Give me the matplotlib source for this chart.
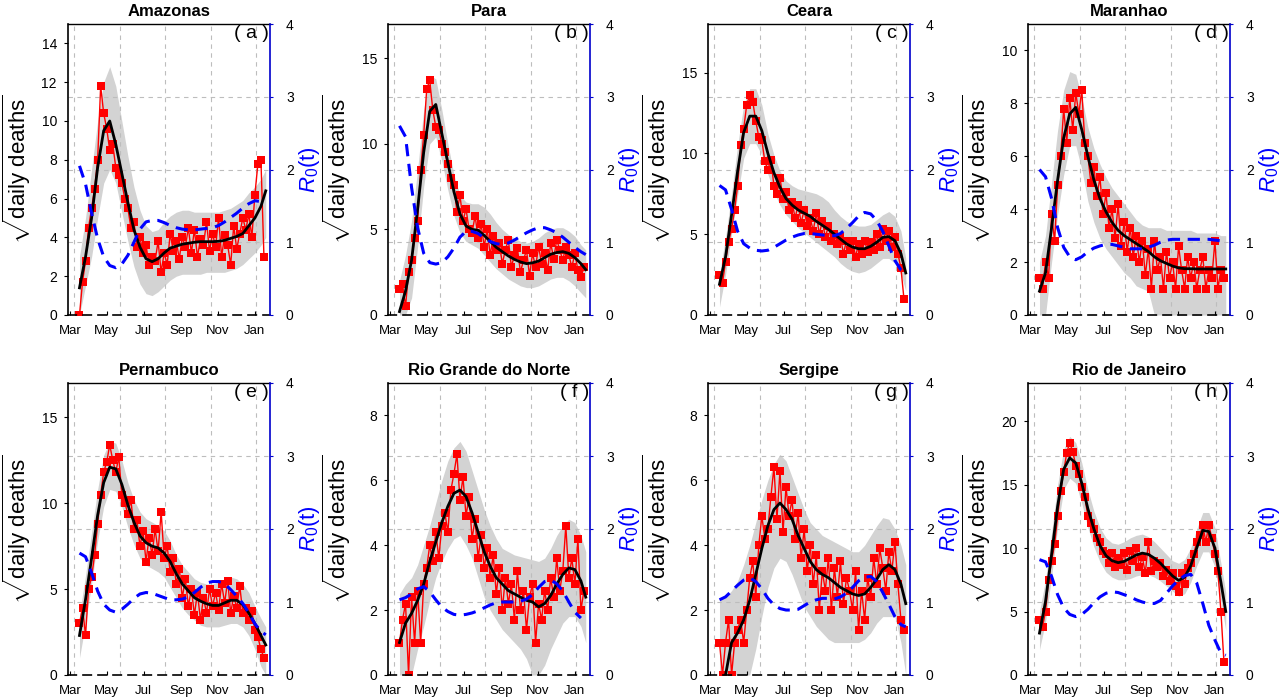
import matplotlib
matplotlib.use('Agg')
import matplotlib.pyplot as plt
import numpy as np

plt.rcParams['font.family'] = ['Liberation Sans', 'DejaVu Sans']
plt.rcParams['mathtext.fontset'] = 'custom'
plt.rcParams['mathtext.rm'] = 'Liberation Sans'
plt.rcParams['mathtext.it'] = 'Liberation Sans:italic'
plt.rcParams['mathtext.bf'] = 'Liberation Sans:bold'

# ---------------- data ----------------
states = ['Amazonas', 'Para', 'Ceara', 'Maranhao',
          'Pernambuco', 'Rio Grande do Norte', 'Sergipe', 'Rio de Janeiro']
letters = ['a', 'b', 'c', 'd', 'e', 'f', 'g', 'h']
y_max = [15, 17, 18, 11, 17, 9, 9, 23]
y_ticks = [[0, 2, 4, 6, 8, 10, 12, 14], [0, 5, 10, 15], [0, 5, 10, 15],
           [0, 2, 4, 6, 8, 10], [0, 5, 10, 15], [0, 2, 4, 6, 8],
           [0, 2, 4, 6, 8], [0, 5, 10, 15, 20]]

# days since 1 March 2020
month_days = [0, 61, 122, 184, 245, 306]
month_labels = ['Mar', 'May', 'Jul', 'Sep', 'Nov', 'Jan']
grid_days = [7, 83, 158, 233, 308]

fit_days = [16, 26, 36, 46, 56, 66, 76, 86, 96, 106, 116, 126, 136, 146, 156, 166,
            176, 186, 196, 206, 216, 226, 236, 246, 256, 266, 276, 286, 296, 306, 316, 324]
obs_days = list(range(16, 322, 5))
nan = float('nan')

# fitted curves (sqrt daily deaths)
fit_amazonas = [1.4, 3.0, 5.0, 7.6, 9.5, 10.0, 8.8, 7.3, 5.8, 4.4, 3.5, 2.9, 2.75, 2.9, 3.2, 3.45,
                3.55, 3.65, 3.7, 3.75, 3.78, 3.78, 3.78, 3.8, 3.85, 3.95, 4.05, 4.2, 4.6, 5.0, 5.6, 6.4]
fit_para = [0.2, 1.4, 3.2, 6.2, 9.5, 11.9, 12.3, 10.6, 8.9, 7.2, 5.9, 5.2, 5.0, 4.95, 4.65, 4.3,
            3.95, 3.7, 3.45, 3.25, 3.1, 3.0, 3.05, 3.15, 3.35, 3.55, 3.65, 3.7, 3.6, 3.35, 3.0, 2.65]
fit_ceara = [1.9, 3.6, 6.2, 8.9, 11.3, 12.3, 12.3, 11.4, 10.0, 8.8, 7.9, 7.2, 6.8, 6.5, 6.3, 6.1,
             5.8, 5.55, 5.3, 5.0, 4.7, 4.4, 4.2, 4.1, 4.1, 4.25, 4.5, 4.8, 4.85, 4.6, 3.8, 2.6]
fit_maranhao = [0.9, 1.6, 3.3, 5.1, 6.7, 7.6, 7.85, 7.0, 6.0, 5.1, 4.4, 3.9, 3.5, 3.2, 3.0, 2.85,
                2.7, 2.55, 2.4, 2.2, 2.05, 1.95, 1.85, 1.78, 1.75, 1.75, 1.74, 1.74, 1.74, 1.74, 1.74, 1.74]
fit_pernambuco = [2.3, 4.4, 6.8, 9.3, 11.2, 12.1, 12.0, 11.1, 9.9, 8.9, 8.1, 7.7, 7.5, 7.4, 7.1, 6.6,
                  5.9, 5.3, 4.9, 4.5, 4.3, 4.15, 4.05, 4.05, 4.2, 4.35, 4.35, 4.1, 3.6, 3.0, 2.3, 1.75]
fit_rgn = [1.0, 1.6, 1.9, 2.3, 2.8, 3.5, 4.1, 4.7, 5.2, 5.6, 5.7, 5.5, 5.0, 4.4, 3.8, 3.35,
           3.0, 2.8, 2.6, 2.5, 2.4, 2.3, 2.25, 2.1, 2.2, 2.45, 2.8, 3.1, 3.3, 3.25, 2.9, 2.4]
fit_sergipe = [nan, 0.0, 1.0, 1.3, 1.7, 2.3, 3.1, 3.9, 4.6, 5.1, 5.3, 5.1, 4.8, 4.3, 3.9, 3.5,
               3.25, 3.1, 3.0, 2.85, 2.7, 2.6, 2.5, 2.45, 2.5, 2.7, 2.95, 3.25, 3.4, 3.25, 2.8, 2.2]
fit_rio = [3.3, 5.8, 9.5, 13.3, 16.2, 17.1, 16.7, 15.1, 13.1, 11.5, 10.2, 9.4, 9.0, 8.85, 8.95, 9.2,
           9.45, 9.6, 9.5, 9.2, 8.8, 8.3, 7.8, 7.45, 7.7, 8.6, 10.0, 11.4, 11.3, 10.0, 7.3, 5.0]

# confidence band upper / lower
upper_amazonas = [3.0, 5.0, 7.5, 10.0, 12.0, 12.8, 11.8, 10.0, 8.2, 6.6, 5.4, 4.6, 4.3, 4.4, 4.8, 5.1,
                  5.3, 5.4, 5.4, 5.3, 5.3, 5.3, 5.3, 5.3, 5.4, 5.5, 5.7, 5.9, 6.3, 6.6, 7.0, 7.5]
lower_amazonas = [0.0, 1.5, 3.0, 5.0, 6.8, 7.5, 6.8, 5.3, 3.8, 2.5, 1.6, 1.1, 1.0, 1.2, 1.5, 1.8,
                  2.0, 2.1, 2.1, 2.1, 2.1, 2.2, 2.2, 2.2, 2.2, 2.3, 2.4, 2.6, 2.9, 3.2, 3.6, 4.0]
upper_para = [2.0, 3.5, 5.5, 8.5, 12.0, 14.0, 13.8, 12.0, 10.0, 8.2, 7.0, 6.6, 6.5, 6.5, 6.3, 5.9,
              5.4, 5.0, 4.7, 4.5, 4.3, 4.2, 4.3, 4.5, 4.8, 5.0, 5.1, 5.1, 4.9, 4.6, 4.1, 3.8]
lower_para = [0.0, 0.0, 1.0, 4.0, 7.5, 10.0, 10.4, 9.0, 7.3, 5.8, 4.8, 4.3, 4.1, 3.9, 3.5, 3.1,
              2.7, 2.4, 2.1, 1.9, 1.7, 1.6, 1.6, 1.7, 1.9, 2.1, 2.2, 2.2, 2.0, 1.7, 1.3, 1.0]
upper_ceara = [2.5, 4.8, 7.5, 10.5, 13.0, 14.0, 14.0, 13.0, 11.2, 9.9, 8.9, 8.3, 8.0, 7.8, 7.7, 7.6,
               7.5, 7.3, 7.0, 6.5, 6.1, 5.8, 5.6, 5.5, 5.5, 5.6, 5.9, 6.2, 6.4, 6.1, 5.2, 3.5]
lower_ceara = [0.5, 2.5, 5.0, 7.4, 9.7, 10.6, 10.6, 9.9, 8.7, 7.6, 6.8, 6.2, 5.8, 5.4, 5.1, 4.8,
               4.5, 4.2, 3.9, 3.6, 3.2, 2.9, 2.7, 2.6, 2.7, 2.9, 3.2, 3.5, 3.5, 3.2, 2.5, 1.5]
upper_maranhao = [2.0, 3.0, 5.0, 7.0, 8.5, 9.2, 9.1, 8.2, 7.1, 6.3, 5.7, 5.2, 4.8, 4.5, 4.2, 3.9,
                  3.6, 3.4, 3.3, 3.3, 3.3, 3.2, 3.2, 3.2, 3.2, 3.2, 3.1, 3.1, 3.1, 3.1, 3.0, 3.0]
lower_maranhao = [0.0, 0.0, 2.0, 3.8, 5.3, 6.4, 6.4, 5.5, 4.3, 3.5, 2.9, 2.5, 2.2, 1.9, 1.6, 1.4,
                  1.1, 1.0, 0.9, 0.0, 0.0, 0.0, 0.0, 0.0, 0.0, 0.0, 0.0, 0.0, 0.0, 0.0, 0.0, 0.0]
upper_pernambuco = [3.5, 5.8, 8.3, 10.8, 12.8, 13.6, 13.5, 12.5, 11.2, 10.2, 9.5, 9.1, 8.9, 8.7, 8.4, 7.8,
                    7.0, 6.4, 6.0, 5.6, 5.4, 5.3, 5.3, 5.4, 5.6, 5.7, 5.6, 5.3, 4.8, 4.0, 3.3, 2.8]
lower_pernambuco = [1.0, 3.0, 5.3, 7.8, 9.8, 10.8, 10.7, 9.8, 8.6, 7.6, 6.8, 6.4, 6.2, 6.0, 5.7, 5.1,
                    4.5, 3.9, 3.5, 3.2, 2.9, 2.8, 2.8, 2.8, 2.9, 3.0, 3.0, 2.8, 2.3, 1.5, 0.5, 0.0]
upper_rgn = [2.5, 2.8, 3.0, 3.4, 4.0, 4.6, 5.3, 6.0, 6.6, 7.0, 7.2, 6.9, 6.3, 5.7, 5.1, 4.6,
             4.2, 3.9, 3.8, 3.7, 3.65, 3.6, 3.55, 3.5, 3.6, 3.9, 4.3, 4.6, 4.8, 4.7, 4.3, 3.8]
lower_rgn = [0.0, 0.0, 0.0, 0.8, 1.5, 2.3, 3.0, 3.5, 3.9, 4.2, 4.3, 4.0, 3.6, 3.0, 2.4, 2.0,
             1.7, 1.4, 1.2, 1.0, 0.8, 0.5, 0.0, 0.0, 0.3, 0.8, 1.2, 1.6, 1.8, 1.8, 1.5, 1.0]
upper_sergipe = [2.3, 2.4, 2.6, 2.9, 3.4, 4.0, 4.7, 5.4, 6.0, 6.5, 6.8, 6.6, 6.1, 5.6, 5.1, 4.7,
                 4.5, 4.3, 4.2, 4.1, 4.0, 3.9, 3.8, 3.8, 4.0, 4.3, 4.6, 4.85, 4.8, 4.5, 4.0, 3.4]
lower_sergipe = [0.0, 0.0, 0.0, 0.0, 0.0, 0.0, 0.8, 1.8, 2.7, 3.3, 3.6, 3.5, 3.1, 2.6, 2.1, 1.8,
                 1.5, 1.3, 1.1, 1.0, 1.0, 1.0, 1.0, 1.0, 1.1, 1.3, 1.6, 1.8, 1.8, 1.8, 1.0, 0.0]
upper_rio = [5.0, 7.5, 11.2, 15.0, 17.8, 18.8, 18.3, 16.7, 14.6, 12.9, 11.6, 10.8, 10.4, 10.3, 10.5, 10.8,
             11.0, 11.1, 10.9, 10.5, 10.0, 9.5, 9.0, 8.8, 9.1, 10.0, 11.5, 12.8, 12.8, 11.6, 8.8, 6.5]
lower_rio = [2.0, 4.2, 7.8, 11.6, 14.6, 15.5, 15.1, 13.5, 11.6, 10.1, 8.9, 8.1, 7.7, 7.5, 7.5, 7.6,
             7.8, 7.9, 7.9, 7.7, 7.4, 7.0, 6.6, 6.2, 6.4, 7.3, 8.6, 9.7, 9.7, 8.5, 5.8, 3.5]

# R0(t)
r0_amazonas = [2.05, 1.8, 1.4, 1.05, 0.8, 0.68, 0.65, 0.7, 0.82, 1.0, 1.18, 1.28, 1.3, 1.3, 1.27, 1.23,
               1.2, 1.18, 1.17, 1.17, 1.18, 1.19, 1.2, 1.23, 1.28, 1.34, 1.4, 1.47, 1.53, 1.57, 1.56, 1.55]
r0_para = [2.6, 2.45, 1.75, 1.2, 0.85, 0.72, 0.7, 0.72, 0.8, 0.92, 1.07, 1.15, 1.15, 1.12, 1.06, 1.01,
           0.98, 0.97, 0.99, 1.03, 1.08, 1.13, 1.17, 1.2, 1.2, 1.17, 1.13, 1.07, 1.0, 0.93, 0.87, 0.83]
r0_ceara = [1.78, 1.72, 1.45, 1.15, 0.98, 0.92, 0.89, 0.88, 0.89, 0.93, 0.98, 1.03, 1.07, 1.1, 1.12, 1.12,
            1.11, 1.1, 1.09, 1.09, 1.12, 1.19, 1.27, 1.36, 1.41, 1.39, 1.3, 1.15, 0.95, 0.75, 0.62, 0.57]
r0_maranhao = [2.0, 1.9, 1.6, 1.2, 0.93, 0.8, 0.76, 0.8, 0.87, 0.92, 0.95, 0.97, 0.97, 0.95, 0.93, 0.91,
               0.91, 0.91, 0.93, 0.96, 1.0, 1.03, 1.04, 1.04, 1.04, 1.04, 1.04, 1.04, 1.04, 1.03, 1.02, nan]
r0_pernambuco = [1.67, 1.62, 1.4, 1.15, 0.97, 0.89, 0.86, 0.9, 0.97, 1.05, 1.11, 1.13, 1.12, 1.09, 1.06, 1.03,
                 1.03, 1.04, 1.07, 1.13, 1.2, 1.26, 1.28, 1.28, 1.25, 1.17, 1.08, 0.98, 0.85, 0.7, 0.6, 0.55]
r0_rgn = [1.03, 1.06, 1.11, 1.18, 1.21, 1.14, 1.03, 0.93, 0.87, 0.83, 0.82, 0.83, 0.85, 0.88, 0.92, 0.96,
          0.99, 1.0, 1.0, 1.0, 1.01, 1.04, 1.1, 1.2, 1.28, 1.3, 1.25, 1.15, 1.0, 0.86, 0.78, nan]
r0_sergipe = [1.03, 1.07, 1.15, 1.23, 1.3, 1.33, 1.28, 1.18, 1.05, 0.96, 0.91, 0.89, 0.89, 0.9, 0.95, 1.0,
              1.03, 1.05, 1.05, 1.04, 1.07, 1.12, 1.2, 1.29, 1.34, 1.35, 1.28, 1.13, 0.97, 0.8, 0.69, 0.66]
r0_rio = [1.58, 1.55, 1.35, 1.1, 0.92, 0.83, 0.8, 0.83, 0.9, 0.99, 1.07, 1.12, 1.14, 1.13, 1.1, 1.07,
          1.03, 1.0, 0.98, 0.98, 1.02, 1.12, 1.22, 1.3, 1.36, 1.38, 1.26, 0.98, 0.68, 0.48, 0.3, 0.27]

# observed sqrt daily deaths (every 5th day)
obs_amazonas = [0.0, 1.7, 2.8, 4.5, 5.5, 6.5, 8.0, 11.8, 10.4, 9.6, 8.5, 8.8, 7.6, 7.2, 6.8, 6.0, 5.5, 4.5, 4.8, 3.5,
                4.0, 3.2, 3.6, 2.6, 3.0, 2.8, 3.8, 2.2, 3.2, 2.6, 4.2, 3.3, 3.8, 2.9, 4.0, 3.5, 4.5, 3.2, 4.4, 3.0,
                3.9, 3.6, 4.8, 3.3, 4.2, 3.5, 5.0, 3.0, 4.1, 3.6, 2.6, 4.6, 3.4, 4.2, 5.0, 4.4, 5.2, 4.0, 6.2, 7.8,
                8.0, 3.0]
obs_para = [1.5, 1.8, 0.5, 2.5, 3.2, 4.5, 5.5, 8.5, 10.5, 13.2, 13.7, 12.0, 11.0, 10.8, 10.0, 9.5, 8.8, 8.0, 7.6, 6.0,
            7.0, 5.5, 6.2, 5.0, 4.8, 5.8, 4.5, 5.3, 4.0, 5.0, 3.5, 4.6, 3.8, 4.2, 3.0, 3.8, 4.4, 2.8, 3.5, 3.9,
            2.5, 3.2, 3.8, 2.3, 3.6, 2.8, 4.0, 3.0, 3.6, 2.6, 4.2, 3.3, 4.4, 3.8, 3.2, 4.0, 3.5, 2.8, 3.6, 2.6,
            2.2, 2.8]
obs_ceara = [2.5, 2.0, 3.3, 4.5, 5.3, 6.5, 8.0, 10.5, 11.5, 13.0, 13.6, 13.2, 12.0, 11.0, 10.8, 9.5, 9.0, 9.6, 8.0, 7.5,
             8.5, 7.2, 7.6, 6.5, 7.0, 6.0, 6.8, 5.7, 6.5, 5.5, 6.0, 5.2, 6.3, 5.0, 5.8, 4.8, 5.5, 4.6, 5.0, 4.4,
             4.8, 3.8, 4.6, 4.0, 4.6, 3.6, 4.4, 3.8, 4.6, 3.9, 4.5, 4.0, 5.0, 4.2, 5.3, 4.6, 5.2, 4.2, 4.8, 3.8,
             2.9, 1.0]
obs_maranhao = [1.4, 1.0, 2.0, 1.4, 3.8, 2.8, 4.9, 6.0, 7.8, 6.5, 8.2, 7.0, 8.4, 7.6, 8.5, 6.5, 6.0, 5.0, 5.6, 4.5,
                5.2, 3.8, 4.6, 3.3, 4.0, 2.9, 4.2, 2.6, 3.5, 2.4, 3.3, 2.2, 3.0, 2.0, 2.8, 1.5, 2.5, 1.0, 2.8, 1.7,
                2.2, 1.0, 2.4, 1.4, 2.0, 1.0, 2.6, 1.7, 1.0, 2.2, 1.4, 2.0, 1.0, 1.7, 2.2, 1.0, 1.7, 1.4, 2.8, 1.0,
                1.7, 1.4]
obs_pernambuco = [3.0, 3.9, 2.3, 5.0, 5.7, 7.0, 8.8, 10.5, 11.8, 12.4, 13.4, 12.5, 11.8, 12.7, 10.5, 10.0, 9.4, 10.2, 8.5, 9.0,
                  7.5, 8.4, 6.6, 8.0, 7.0, 8.5, 7.2, 9.5, 6.8, 7.5, 6.0, 6.8, 5.3, 6.2, 4.5, 5.6, 4.0, 5.0, 3.5, 4.8,
                  3.2, 4.5, 3.6, 5.0, 4.0, 4.8, 3.8, 5.3, 4.2, 5.5, 3.6, 4.6, 3.9, 5.2, 3.6, 3.9, 3.2, 3.7, 2.6, 2.2,
                  1.5, 1.0]
obs_rgn = [1.0, 1.7, 2.2, 0.0, 2.4, 1.0, 2.6, 1.0, 2.8, 3.3, 4.0, 3.5, 4.4, 3.6, 4.6, 5.0, 4.4, 5.7, 6.2, 6.8,
           5.4, 6.1, 4.9, 5.5, 4.2, 4.8, 3.6, 4.3, 3.3, 3.9, 3.0, 3.7, 2.5, 3.3, 2.0, 3.0, 2.2, 2.8, 1.7, 3.2,
           2.0, 2.6, 1.4, 2.4, 2.8, 1.0, 2.2, 1.7, 2.6, 2.0, 3.0, 2.4, 3.6, 2.6, 3.2, 4.6, 3.0, 3.6, 2.8, 4.2,
           2.0, 2.6]
obs_sergipe = [1.0, 0.0, 1.0, 1.7, 0.0, 1.0, 1.4, 1.7, 1.0, 2.0, 3.0, 3.5, 2.4, 4.0, 4.9, 4.2, 4.5, 5.5, 6.4, 4.8,
               6.3, 4.4, 5.8, 4.9, 5.4, 4.2, 5.0, 3.6, 4.5, 3.2, 4.0, 2.8, 3.7, 2.0, 3.2, 2.6, 3.6, 2.0, 3.3, 2.4,
               3.5, 2.2, 3.0, 2.6, 2.0, 3.2, 1.4, 2.6, 1.7, 3.0, 2.4, 3.6, 2.8, 3.9, 3.3, 2.6, 3.8, 3.2, 4.1, 2.8,
               1.7, 1.4]
obs_rio = [4.3, 3.8, 5.0, 7.5, 9.0, 10.3, 12.5, 14.5, 16.0, 17.5, 18.3, 17.6, 16.5, 15.8, 14.8, 14.0, 12.5, 12.0, 11.5, 10.8,
           10.5, 9.8, 9.5, 8.8, 9.6, 8.5, 9.2, 8.7, 9.6, 8.3, 9.8, 9.0, 10.0, 8.5, 9.3, 8.0, 10.5, 8.2, 9.0, 8.5,
           8.8, 7.8, 8.3, 7.4, 8.0, 7.0, 6.5, 8.0, 7.2, 8.4, 8.8, 9.5, 10.5, 11.0, 11.8, 10.5, 11.8, 10.8, 9.5, 8.2,
           5.0, 1.0]

fits = [fit_amazonas, fit_para, fit_ceara, fit_maranhao, fit_pernambuco, fit_rgn, fit_sergipe, fit_rio]
uppers = [upper_amazonas, upper_para, upper_ceara, upper_maranhao, upper_pernambuco, upper_rgn, upper_sergipe, upper_rio]
lowers = [lower_amazonas, lower_para, lower_ceara, lower_maranhao, lower_pernambuco, lower_rgn, lower_sergipe, lower_rio]
r0s = [r0_amazonas, r0_para, r0_ceara, r0_maranhao, r0_pernambuco, r0_rgn, r0_sergipe, r0_rio]
obss = [obs_amazonas, obs_para, obs_ceara, obs_maranhao, obs_pernambuco, obs_rgn, obs_sergipe, obs_rio]

# ---------------- figure ----------------
W, H = 1280, 699
fig = plt.figure(figsize=(12.8, 6.99), dpi=100)
grid_col = '#bdbdbd'

for i in range(8):
    r, c = divmod(i, 4)
    left_px = 68 + 320 * c
    top_px = 24 if r == 0 else 383
    bot_px = 315 if r == 0 else 675
    ax = fig.add_axes([left_px / W, 1 - bot_px / H, 202 / W, (bot_px - top_px) / H])
    ymax = y_max[i]
    ax.set_xlim(-3, 331)
    ax.set_ylim(0, ymax)

    low = np.array(lowers[i]); up = np.array(uppers[i])
    ax.fill_between(fit_days, low, up, color='#d3d3d3', lw=0, zorder=1)

    for d in grid_days:
        ax.axvline(d, color=grid_col, ls=(0, (4, 4)), lw=0.8, zorder=1.5)
    for k in (1, 2, 3):
        ax.axhline(ymax * k / 4, color=grid_col, ls=(0, (4, 4)), lw=0.8, zorder=1.5)

    ax.plot(obs_days, obss[i], color='#ff0000', lw=1.0, marker='s', ms=5.5,
            markeredgewidth=0, zorder=2)
    ax.plot(fit_days, fits[i], color='black', lw=2.0, zorder=3)

    ax.set_xticks(month_days)
    ax.set_xticklabels(month_labels)
    ax.set_yticks(y_ticks[i])
    ax.tick_params(axis='x', direction='in', length=3, labelsize=9.5, pad=7)
    ax.tick_params(axis='y', direction='out', length=3, labelsize=10, pad=5)
    ax.spines['right'].set_visible(False)
    ax.spines['bottom'].set_linestyle((0, (5, 4)))
    ax.spines['bottom'].set_linewidth(1.2)
    ax.spines['top'].set_linewidth(1.0)
    ax.spines['left'].set_linewidth(1.2)

    ax.set_title(states[i], fontsize=12, fontweight='bold', pad=6)
    ax.text(0.995, 0.995, '( %s )' % letters[i], transform=ax.transAxes,
            ha='right', va='top', fontsize=14)
    ax.set_ylabel(r'$\sqrt{\mathrm{daily\ deaths}}$', fontsize=16)
    ax.yaxis.set_label_coords(-0.175, 0.5)

    ax2 = ax.twinx()
    ax2.set_ylim(0, 4)
    ax2.set_yticks([0, 1, 2, 3, 4])
    ax2.plot(fit_days, r0s[i], color='#0000ff', lw=2.2, ls=(0, (4, 2.5)), zorder=4)
    for s in ('left', 'top', 'bottom'):
        ax2.spines[s].set_visible(False)
    ax2.spines['right'].set_color('#0000cc')
    ax2.spines['right'].set_linewidth(1.2)
    ax2.tick_params(axis='y', colors='#0000cc', labelcolor='black', direction='out',
                    length=2.5, labelsize=10, pad=9)
    ax2.set_ylabel(r'$\mathit{R}_{\mathrm{0}}\mathrm{(t)}$', fontsize=16, color='#0000ff')
    ax2.yaxis.set_label_coords(1.135, 0.5)

fig.savefig('out.png', dpi=100)
